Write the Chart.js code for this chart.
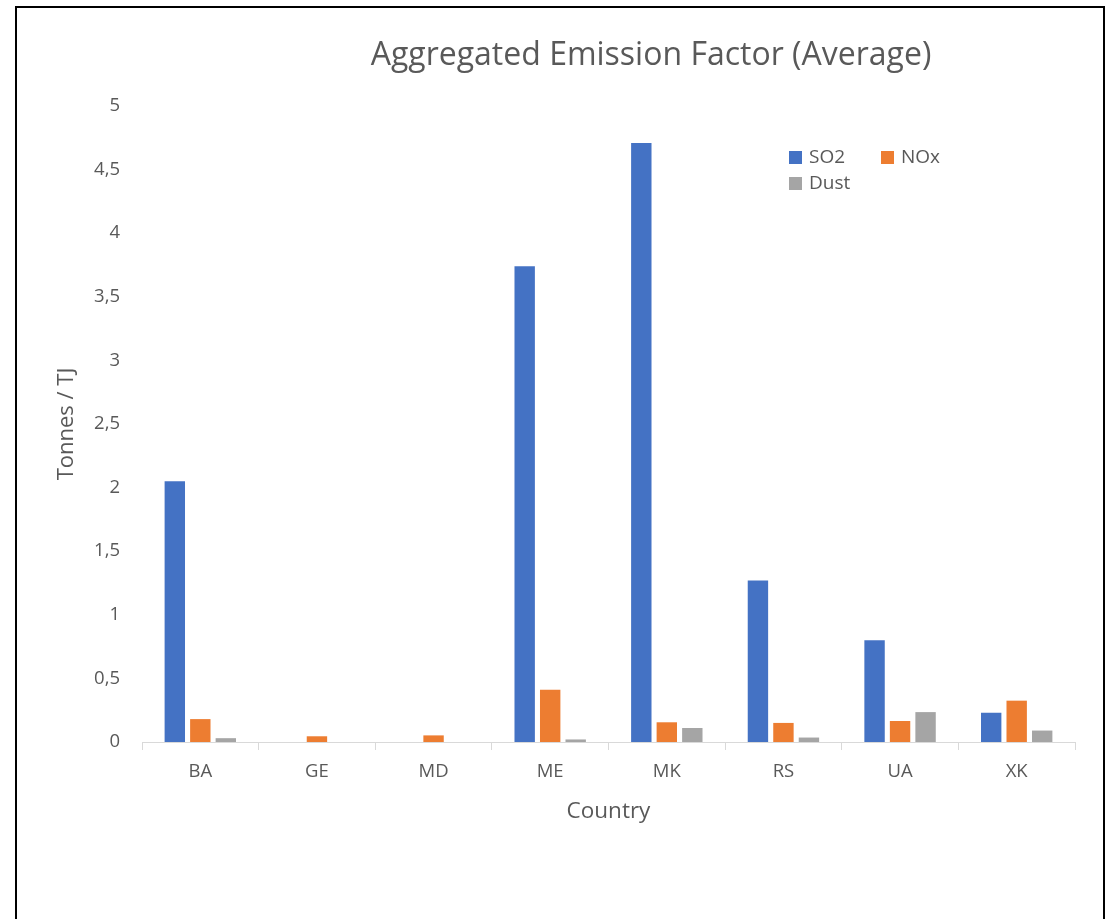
<!DOCTYPE html>
<html>
<head>
<meta charset="utf-8">
<script src="https://cdn.jsdelivr.net/npm/chart.js@4"></script>
<style>
    html, body { margin: 0; padding: 0; background: #fff; overflow: hidden; }
    #wrap { position: relative; width: 1116px; height: 919px; }
    #frame { position: absolute; left: 15px; top: 6px; width: 1086px; height: 1000px; border: 2px solid #000; pointer-events: none; }
</style>
</head>
<body>
<div id="wrap">
    <canvas id="myChart" width="1116" height="919"></canvas>
    <div id="frame"></div>
</div>
<script>
// Chart data
const countries = ['BA', 'GE', 'MD', 'ME', 'MK', 'RS', 'UA', 'XK'];
const so2Values = [2.05, 0, 0, 3.74, 4.71, 1.27, 0.80, 0.23];
const noxValues = [0.18, 0.045, 0.052, 0.41, 0.155, 0.15, 0.165, 0.325];
const dustValues = [0.03, 0, 0, 0.02, 0.11, 0.035, 0.235, 0.09];
const yTicks = [0, 0.5, 1, 1.5, 2, 2.5, 3, 3.5, 4, 4.5, 5];
const chartTitle = 'Aggregated Emission Factor (Average)';

const textColor = '#595959';
const fontFamily = "'Open Sans', 'Noto Sans', sans-serif";

// Title sits off-centre in the original, so it is drawn here
const offsetTitle = {
    id: 'offsetTitle',
    afterDraw(chart) {
        const ctx = chart.ctx;
        ctx.save();
        ctx.font = '32px ' + fontFamily;
        ctx.fillStyle = textColor;
        ctx.textAlign = 'center';
        ctx.textBaseline = 'middle';
        ctx.fillText(chartTitle, 651, 56);
        ctx.restore();
    }
};

// Legend drawn inside the plot, two rows like the original
const cornerLegend = {
    id: 'cornerLegend',
    afterDraw(chart) {
        const ctx = chart.ctx;
        const spots = [[789, 151], [881, 151], [789, 177]];
        ctx.save();
        ctx.font = '19px ' + fontFamily;
        ctx.textBaseline = 'middle';
        chart.data.datasets.forEach((ds, i) => {
            const [x, y] = spots[i];
            ctx.fillStyle = ds.backgroundColor;
            ctx.fillRect(x, y, 13, 13);
            ctx.fillStyle = textColor;
            ctx.fillText(ds.label, x + 20, y + 7);
        });
        ctx.restore();
    }
};

const ctx = document.getElementById('myChart').getContext('2d');
new Chart(ctx, {
    type: 'bar',
    data: {
        labels: countries,
        datasets: [
            { label: 'SO2', data: so2Values, backgroundColor: '#4472C4' },
            { label: 'NOx', data: noxValues, backgroundColor: '#ED7D31' },
            { label: 'Dust', data: dustValues, backgroundColor: '#A5A5A5' }
        ]
    },
    options: {
        responsive: false,
        animation: false,
        devicePixelRatio: 1,
        categoryPercentage: 0.656,
        barPercentage: 0.8,
        layout: { padding: { left: 54, right: 41, top: 106, bottom: 87 } },
        plugins: {
            legend: { display: false },
            tooltip: { enabled: false },
            title: { display: false }
        },
        scales: {
            x: {
                grid: { display: true, drawOnChartArea: false, drawTicks: true, tickLength: 8, offset: true, color: '#d9d9d9' },
                border: { display: true, color: '#d9d9d9' },
                ticks: { color: textColor, font: { family: fontFamily, size: 18.5 }, padding: 11 },
                title: { display: true, text: 'Country', color: textColor, font: { family: fontFamily, size: 22.5 }, padding: { top: 0, bottom: 7 } },
                afterFit(scale) { scale.height = 90; }
            },
            y: {
                min: 0,
                max: 5,
                grid: { display: false, drawTicks: false },
                border: { display: false },
                afterBuildTicks(scale) { scale.ticks = yTicks.map(v => ({ value: v })); },
                ticks: {
                    color: textColor,
                    font: { family: fontFamily, size: 18.5 },
                    padding: 22,
                    callback: v => String(v).replace('.', ',')
                },
                title: { display: true, text: 'Tonnes / TJ', color: textColor, font: { family: fontFamily, size: 22 }, padding: 0 },
                afterFit(scale) { scale.width = 88; }
            }
        }
    },
    plugins: [offsetTitle, cornerLegend]
});
</script>
</body>
</html>
